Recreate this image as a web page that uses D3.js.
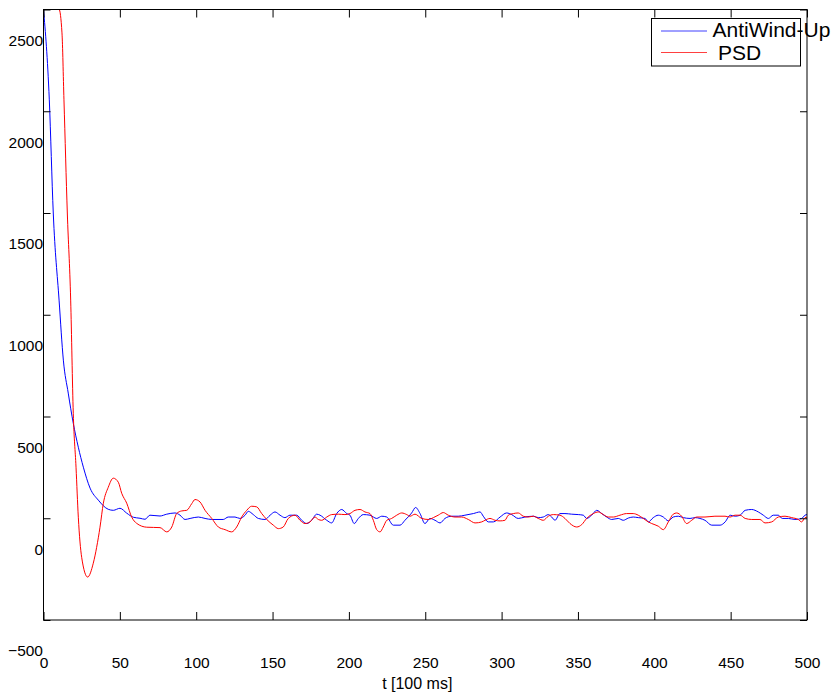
<!DOCTYPE html>
<html lang="en">
<head>
  <meta charset="UTF-8">
  <title>AntiWind-Up vs PSD</title>
  <script src="https://d3js.org/d3.v7.min.js"></script>
  <style>
    body {
      margin: 0;
      padding: 0;
      background: #fff;
    }
    svg text {
      font-family: "Liberation Sans", Arial, sans-serif;
      fill: #000;
    }
  </style>
</head>
<body>
  <div id="vis"></div>

  <script>
    // values (t in units of 100 ms)
    const antiWindUpT = [0, 3.8, 6.4, 10.2, 13, 16.2, 19.5, 22.8, 26.1, 30.5, 35.9, 42.4, 45.7, 50.1, 54.5, 58.8, 63.2, 66.5, 69.7, 76.3, 80.7, 86.1, 89.4, 92.7, 96, 101.4, 105.8, 110.2, 117.7, 121, 125.4, 128.6, 132, 134.1, 137.4, 140.7, 145.1, 148.4, 151.6, 154.9, 158.1, 161.4, 165.8, 169.1, 172.4, 175.6, 178.9, 181.1, 185.5, 188.7, 192, 195.3, 198.6, 200.7, 203.5, 206.2, 209.4, 213.8, 218.2, 221.5, 224.8, 229.1, 233.5, 236.7, 241.1, 243.7, 246.6, 249.8, 253.1, 256.4, 259.7, 262.9, 267.3, 271.6, 276, 281.5, 285.9, 288, 291.3, 294.6, 299, 303.3, 306.6, 310.9, 315.3, 320.8, 324, 327.3, 330.6, 332.8, 335, 338.2, 341.5, 345.9, 350.2, 353.5, 355.7, 359, 362.3, 365.6, 368.8, 372.1, 376.4, 379.7, 383, 386.2, 389.5, 393.9, 396.1, 399.3, 402.6, 405.9, 409.2, 412.4, 415.7, 419, 423.4, 426.7, 429.9, 433.2, 437.6, 443.1, 446.4, 449.7, 453, 456.2, 459.5, 463.8, 468.1, 471.4, 474.7, 477.9, 481.2, 483.8, 487.8, 492.1, 496.5, 498.7, 500];
    const antiWindUpV = [2500, 2056, 1500, 1072, 777, 615, 467, 349, 251, 148, 89, 44, 39, 49, 25, 5, 0, -5, 15, 11, 20, 26, 15, -6, -1, 6, -1, -6, -6, 6, 6, -1, 15, 34, 18, -1, -6, 15, 31, 15, 3, 15, 15, -10, -26, -10, 20, 15, -10, -23, 23, 43, 23, 15, -26, -1, 18, 15, -1, 10, 6, -34, -34, -10, 26, 53, 23, -26, -1, -10, -23, -1, 10, 10, 15, 23, 31, 10, -18, -18, 6, 26, 18, -1, 6, 10, 3, 6, 18, 6, -10, 23, 23, 20, 18, 15, -1, 15, 39, 23, 6, -6, -1, -10, 1, 6, 3, -1, -18, 3, 15, 6, -13, 6, 10, 3, -1, 3, -1, -10, -34, -34, -18, 15, 10, 15, 39, 43, 31, 15, -1, 15, 15, -1, -1, -6, -1, 15, 18];

    const psdT = [0, 10.2, 12.1, 13.4, 15.6, 17.8, 19.5, 21.3, 22.8, 25, 28.9, 32.6, 34.8, 37, 39.2, 42.4, 45.7, 49, 51.2, 54.5, 57.8, 61, 67.6, 76.3, 80.7, 84, 87.2, 90.5, 93.8, 97.1, 99.2, 102.5, 105.8, 110.2, 114.5, 118.9, 123.2, 126.5, 129.8, 133.1, 136.3, 139.6, 142.9, 146.2, 150.5, 153.8, 157, 160.3, 164.7, 168, 171.3, 174.5, 177.8, 180, 182.2, 185.5, 188.7, 193.1, 197.4, 200.7, 204, 207.3, 210.5, 213.8, 216, 218.2, 220.4, 222.5, 224.8, 228, 231.3, 234.6, 237.9, 240, 243.3, 247.7, 252, 255.3, 258.5, 261.8, 265.1, 269.5, 273.9, 278.2, 282.6, 287, 289.1, 292.4, 295.7, 299, 302.2, 304.4, 307.7, 310.9, 314.2, 317.5, 320.8, 324, 327.3, 330.6, 333.9, 338.2, 341.5, 344.8, 349.2, 352.5, 355.7, 360.1, 363.3, 366.6, 369.9, 373.2, 377.5, 381.9, 386.2, 389.5, 392.8, 396.1, 398.3, 402.6, 405.9, 409.2, 412.4, 414.7, 417.9, 421.2, 424.5, 427.8, 433.2, 439.7, 446.3, 449.6, 452.9, 456.2, 459.5, 463.8, 469.2, 472.5, 476.9, 481.2, 485.6, 490, 494.3, 496.5, 498.7, 500];
    const psdV = [2500, 2500, 2385, 2056, 1500, 1072, 516, 251, 5, -192, -289, -221, -143, -44, 74, 152, 197, 177, 123, 74, 5, -25, -44, -46, -67, -43, 23, 36, 39, 72, 92, 80, 39, -1, -43, -56, -67, -43, 6, 39, 59, 56, 23, -6, -34, -51, -43, -1, 15, -10, -26, -18, 6, -6, -10, 6, 18, 20, 18, 23, 39, 43, 31, 23, -10, -56, -67, -43, -10, -1, 15, 26, 18, 10, 20, -1, -6, 3, 15, 28, 15, 6, 6, -6, -23, -18, -10, -1, -10, -13, -10, 15, 23, 26, 10, 6, 10, -1, -10, 10, 18, 15, -1, -26, -43, -31, -1, 23, 31, 18, 6, 6, 15, 23, 23, 15, -1, -18, -26, -39, -56, -18, 20, 26, 10, -26, -10, 6, 6, 10, 10, 6, 15, 15, -1, -6, -6, -23, -18, 6, 10, 3, -6, -18, 3, 5];

    const xTicks = [0, 50, 100, 150, 200, 250, 300, 350, 400, 450, 500];
    const yTicks = [-500, 0, 500, 1000, 1500, 2000, 2500];
    const seriesNames = ["AntiWind-Up", "PSD"];
    const seriesColors = ["#0000ff", "#ff0000"];

    const width = 833, height = 693;
    const svg = d3.select("#vis").append("svg")
      .attr("width", width)
      .attr("height", height);

    svg.append("rect").attr("width", width).attr("height", height).attr("fill", "#fff");

    const x = d3.scaleLinear().domain([0, 500]).range([43.5, 807]);
    const y = d3.scaleLinear().domain([-500, 2500]).range([620, 9.5]);

    const line = d3.line()
      .x(d => x(d[0]))
      .y(d => y(d[1]))
      .curve(d3.curveMonotoneX);

    const series = [
      d3.zip(antiWindUpT, antiWindUpV),
      d3.zip(psdT, psdV)
    ];

    svg.selectAll("path.series")
      .data(series)
      .enter().append("path")
      .attr("class", "series")
      .attr("d", line)
      .attr("fill", "none")
      .attr("stroke", (d, i) => seriesColors[i])
      .attr("stroke-width", 1);

    // axes, ticks pointing inward on all four sides
    const fmt = d3.format("d");
    const axisB = svg.append("g")
      .attr("transform", `translate(0,${y(-500)})`)
      .call(d3.axisBottom(x).tickValues(xTicks).tickFormat(fmt).tickSizeInner(-8).tickSizeOuter(0).tickPadding(37));
    const axisT = svg.append("g")
      .attr("transform", `translate(0,${y(2500)})`)
      .call(d3.axisTop(x).tickValues(xTicks).tickSizeInner(-8).tickSizeOuter(0).tickFormat(""));
    const axisL = svg.append("g")
      .attr("transform", `translate(${x(0)},0)`)
      .call(d3.axisLeft(y).tickValues(yTicks).tickFormat(fmt).tickSizeInner(-7).tickSizeOuter(0).tickPadding(0.5));
    const axisR = svg.append("g")
      .attr("transform", `translate(${x(500)},0)`)
      .call(d3.axisRight(y).tickValues(yTicks).tickSizeInner(-7).tickSizeOuter(0).tickFormat(""));

    [axisB, axisT, axisL, axisR].forEach(g => {
      g.select(".domain").remove();
      g.selectAll("line").attr("stroke", "#000");
      g.selectAll("text")
        .style("font-family", "'Liberation Sans', Arial, sans-serif")
        .style("font-size", "15.5px")
        .attr("fill", "#000");
    });

    // y labels sit lower than their ticks in the original
    axisL.selectAll("text").attr("transform", "translate(0,31)");

    svg.append("rect")
      .attr("x", x(0))
      .attr("y", y(2500))
      .attr("width", x(500) - x(0))
      .attr("height", y(-500) - y(2500))
      .attr("fill", "none")
      .attr("stroke", "#000")
      .attr("stroke-width", 1);

    svg.append("text")
      .attr("x", x(250) - 8)
      .attr("y", 688.5)
      .attr("text-anchor", "middle")
      .style("font-size", "16px")
      .text("t [100 ms]");

    // legend
    const legend = svg.append("g").attr("transform", "translate(651.5,18.5)");
    legend.append("rect")
      .attr("width", 149)
      .attr("height", 47.5)
      .attr("fill", "#fff")
      .attr("stroke", "#000")
      .attr("stroke-width", 1);

    legend.selectAll("line")
      .data(seriesNames)
      .enter().append("line")
      .attr("x1", 9.5)
      .attr("x2", 55.5)
      .attr("y1", (d, i) => 12.5 + i * 21.5)
      .attr("y2", (d, i) => 12.5 + i * 21.5)
      .attr("stroke", (d, i) => seriesColors[i])
      .attr("stroke-opacity", 0.75)
      .attr("stroke-width", 1);

    legend.selectAll("text")
      .data(seriesNames)
      .enter().append("text")
      .attr("x", (d, i) => i === 0 ? 61 : 66.5)
      .attr("y", (d, i) => 18.5 + i * 23)
      .style("font-size", "21px")
      .text(d => d);
  </script>
</body>
</html>
